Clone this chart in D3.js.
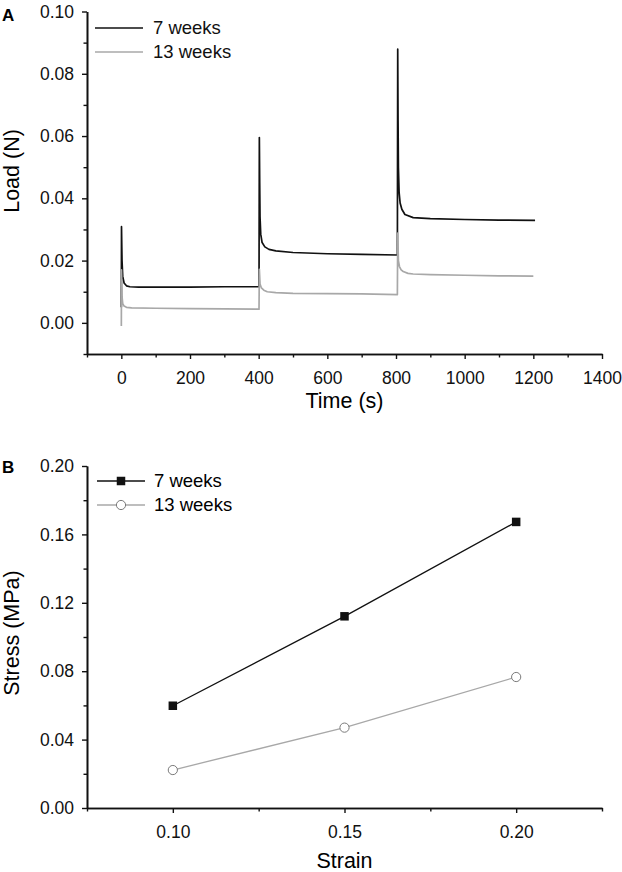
<!DOCTYPE html>
<html>
<head>
<meta charset="utf-8">
<script src="https://cdn.jsdelivr.net/npm/d3@7"></script>
<style>
  html, body { margin: 0; padding: 0; background: #fff; }
  svg { display: block; font-family: "Liberation Sans", Arial, sans-serif; }
</style>
</head>
<body>
<svg id="chart" width="622" height="872"></svg>
<script>
// ---------- Panel A data (Time (s) vs Load (N)) ----------
const seriesNames = ["7 weeks", "13 weeks"];

const load7weeks = [
  [0, 0.0050], [0.5, 0.0309], [2, 0.0200], [4, 0.0150], [8, 0.0128], [15, 0.0119],
  [25, 0.0116], [50, 0.0115], [100, 0.0115], [200, 0.0115], [300, 0.0116], [401, 0.0116],
  [402, 0.0595], [403, 0.0450], [404, 0.0340], [406, 0.0285], [410, 0.0258], [418, 0.0244],
  [430, 0.0236], [450, 0.0231], [500, 0.0226], [600, 0.0222], [700, 0.0220], [804, 0.0218],
  [805, 0.0879], [806, 0.0650], [807, 0.0500], [809, 0.0420], [812, 0.0385], [817, 0.0365],
  [826, 0.0348], [850, 0.0338], [900, 0.0335], [1000, 0.0332], [1100, 0.0330], [1205, 0.0329]
];

const load13weeks = [
  [0, -0.0010], [0.5, 0.0170], [2, 0.0085], [4, 0.0062], [8, 0.0054], [15, 0.0050],
  [30, 0.0048], [100, 0.0047], [200, 0.0046], [300, 0.0045], [401, 0.0044],
  [402, 0.0172], [404, 0.0125], [408, 0.0112], [415, 0.0105], [425, 0.0100], [450, 0.0097],
  [500, 0.0095], [600, 0.0094], [700, 0.0093], [804, 0.0091],
  [805, 0.0288], [807, 0.0200], [810, 0.0181], [815, 0.0170], [821, 0.0165], [835, 0.0159],
  [850, 0.0157], [900, 0.0155], [1000, 0.0153], [1100, 0.0151], [1200, 0.0150]
];

const timeTicks = [0, 200, 400, 600, 800, 1000, 1200, 1400];
const timeMinorTicks = [-100, 100, 300, 500, 700, 900, 1100, 1300];
const loadTicks = [0.00, 0.02, 0.04, 0.06, 0.08, 0.10];
const loadMinorTicks = [-0.01, 0.01, 0.03, 0.05, 0.07, 0.09];

// ---------- Panel B data (Strain vs Stress (MPa)) ----------
const strain = [0.10, 0.15, 0.20];
const stress7weeks = [0.0598, 0.1121, 0.1673];
const stress13weeks = [0.0222, 0.0470, 0.0766];

const strainTicks = [0.10, 0.15, 0.20];
const strainMinorTicks = [0.075, 0.125, 0.175, 0.225];
const stressTicks = [0.00, 0.04, 0.08, 0.12, 0.16, 0.20];
const stressMinorTicks = [0.02, 0.06, 0.10, 0.14, 0.18];

// ---------- Drawing ----------
const svg = d3.select("#chart");
const BLACK = "#111111";
const GREY = "#a8a8a8";
const tickFont = 17.5;
const titleFont = 21.5;
const legendFont = 18.5;

function drawAxes(g, x, y, opts) {
  const [x0, x1] = x.range();
  const [yb, yt] = y.range();
  // x axis
  const xa = g.append("g").attr("transform", `translate(0,${yb})`)
    .call(d3.axisBottom(x).tickValues(opts.xTicks).tickFormat(opts.xFmt).tickSizeInner(5).tickSizeOuter(0).tickPadding(8));
  g.append("g").attr("transform", `translate(0,${yb})`)
    .call(d3.axisBottom(x).tickValues(opts.xMinor).tickFormat("").tickSizeInner(3.5).tickSizeOuter(0));
  // y axis
  const ya = g.append("g").attr("transform", `translate(${x0},0)`)
    .call(d3.axisLeft(y).tickValues(opts.yTicks).tickFormat(opts.yFmt).tickSizeInner(5).tickSizeOuter(0).tickPadding(8));
  g.append("g").attr("transform", `translate(${x0},0)`)
    .call(d3.axisLeft(y).tickValues(opts.yMinor).tickFormat("").tickSizeInner(3.5).tickSizeOuter(0));
  g.selectAll(".domain").attr("stroke", BLACK).attr("stroke-width", 1.6);
  g.selectAll(".tick line").attr("stroke", BLACK).attr("stroke-width", 1.4);
  g.selectAll(".tick text").attr("font-size", tickFont).attr("fill", BLACK)
    .attr("font-family", "Liberation Sans, Arial, sans-serif");
  xa.selectAll(".tick text").attr("dy", null).attr("y", 0).attr("transform", `translate(0,${opts.xLabelDy})`);
}

// ----- Panel A -----
const gA = svg.append("g");
const xA = d3.scaleLinear().domain([-100, 1400]).range([87, 602]);
const yA = d3.scaleLinear().domain([-0.01, 0.10]).range([354, 11.5]);

drawAxes(gA, xA, yA, {
  xTicks: timeTicks, xMinor: timeMinorTicks, xFmt: d3.format("d"),
  yTicks: loadTicks, yMinor: loadMinorTicks, yFmt: d3.format(".2f"), xLabelDy: 30
});

const lineA = d3.line().x(d => xA(d[0])).y(d => yA(d[1]));
gA.append("path").datum(load7weeks).attr("d", lineA)
  .attr("fill", "none").attr("stroke", BLACK).attr("stroke-width", 1.7).attr("stroke-linejoin", "round");
gA.append("path").datum(load13weeks).attr("d", lineA)
  .attr("fill", "none").attr("stroke", GREY).attr("stroke-width", 1.7).attr("stroke-linejoin", "round");

// legend A
const legA = gA.append("g");
[[BLACK, 28], [GREY, 52]].forEach(([c, yy], i) => {
  legA.append("line").attr("x1", 95).attr("x2", 143).attr("y1", yy).attr("y2", yy)
    .attr("stroke", c).attr("stroke-width", 1.7);
  legA.append("text").attr("x", 153).attr("y", yy).attr("dy", "0.35em")
    .attr("font-size", legendFont).attr("fill", BLACK).text(seriesNames[i]);
});

gA.append("text").attr("x", 2).attr("y", 21).attr("font-size", 17).attr("font-weight", "bold").text("A");
gA.append("text").attr("x", d3.mean(xA.range())).attr("y", 408).attr("text-anchor", "middle")
  .attr("font-size", titleFont).text("Time (s)");
gA.append("text").attr("transform", `translate(19,171) rotate(-90)`).attr("text-anchor", "middle")
  .attr("font-size", titleFont).text("Load (N)");

// ----- Panel B -----
const gB = svg.append("g");
const xB = d3.scaleLinear().domain([0.075, 0.225]).range([87, 602]);
const yB = d3.scaleLinear().domain([0, 0.20]).range([808, 466]);

drawAxes(gB, xB, yB, {
  xTicks: strainTicks, xMinor: strainMinorTicks, xFmt: d3.format(".2f"),
  yTicks: stressTicks, yMinor: stressMinorTicks, yFmt: d3.format(".2f"), xLabelDy: 30
});

const lineB = d3.line().x(d => xB(d[0])).y(d => yB(d[1]));
const pts7 = strain.map((s, i) => [s, stress7weeks[i]]);
const pts13 = strain.map((s, i) => [s, stress13weeks[i]]);

gB.append("path").datum(pts7).attr("d", lineB).attr("fill", "none").attr("stroke", BLACK).attr("stroke-width", 1.3);
gB.append("path").datum(pts13).attr("d", lineB).attr("fill", "none").attr("stroke", GREY).attr("stroke-width", 1.3);

const sq = 8.5;
gB.selectAll("rect.m7").data(pts7).join("rect").attr("class", "m7")
  .attr("x", d => xB(d[0]) - sq / 2).attr("y", d => yB(d[1]) - sq / 2)
  .attr("width", sq).attr("height", sq).attr("fill", BLACK);
gB.selectAll("circle.m13").data(pts13).join("circle").attr("class", "m13")
  .attr("cx", d => xB(d[0])).attr("cy", d => yB(d[1])).attr("r", 4.6)
  .attr("fill", "#fff").attr("stroke", "#7a7a7a").attr("stroke-width", 1);

// legend B
const legB = gB.append("g");
legB.append("line").attr("x1", 97).attr("x2", 145).attr("y1", 481).attr("y2", 481).attr("stroke", BLACK).attr("stroke-width", 1.3);
legB.append("rect").attr("x", 121 - sq / 2).attr("y", 481 - sq / 2).attr("width", sq).attr("height", sq).attr("fill", BLACK);
legB.append("text").attr("x", 154).attr("y", 481).attr("dy", "0.35em").attr("font-size", legendFont).text(seriesNames[0]);
legB.append("line").attr("x1", 97).attr("x2", 145).attr("y1", 505).attr("y2", 505).attr("stroke", GREY).attr("stroke-width", 1.3);
legB.append("circle").attr("cx", 121).attr("cy", 505).attr("r", 4.6).attr("fill", "#fff").attr("stroke", "#7a7a7a").attr("stroke-width", 1);
legB.append("text").attr("x", 154).attr("y", 505).attr("dy", "0.35em").attr("font-size", legendFont).text(seriesNames[1]);

gB.append("text").attr("x", 2).attr("y", 473).attr("font-size", 17).attr("font-weight", "bold").text("B");
gB.append("text").attr("x", d3.mean(xB.range())).attr("y", 868).attr("text-anchor", "middle")
  .attr("font-size", titleFont).text("Strain");
gB.append("text").attr("transform", `translate(19,633) rotate(-90)`).attr("text-anchor", "middle")
  .attr("font-size", titleFont).text("Stress (MPa)");
</script>
</body>
</html>
